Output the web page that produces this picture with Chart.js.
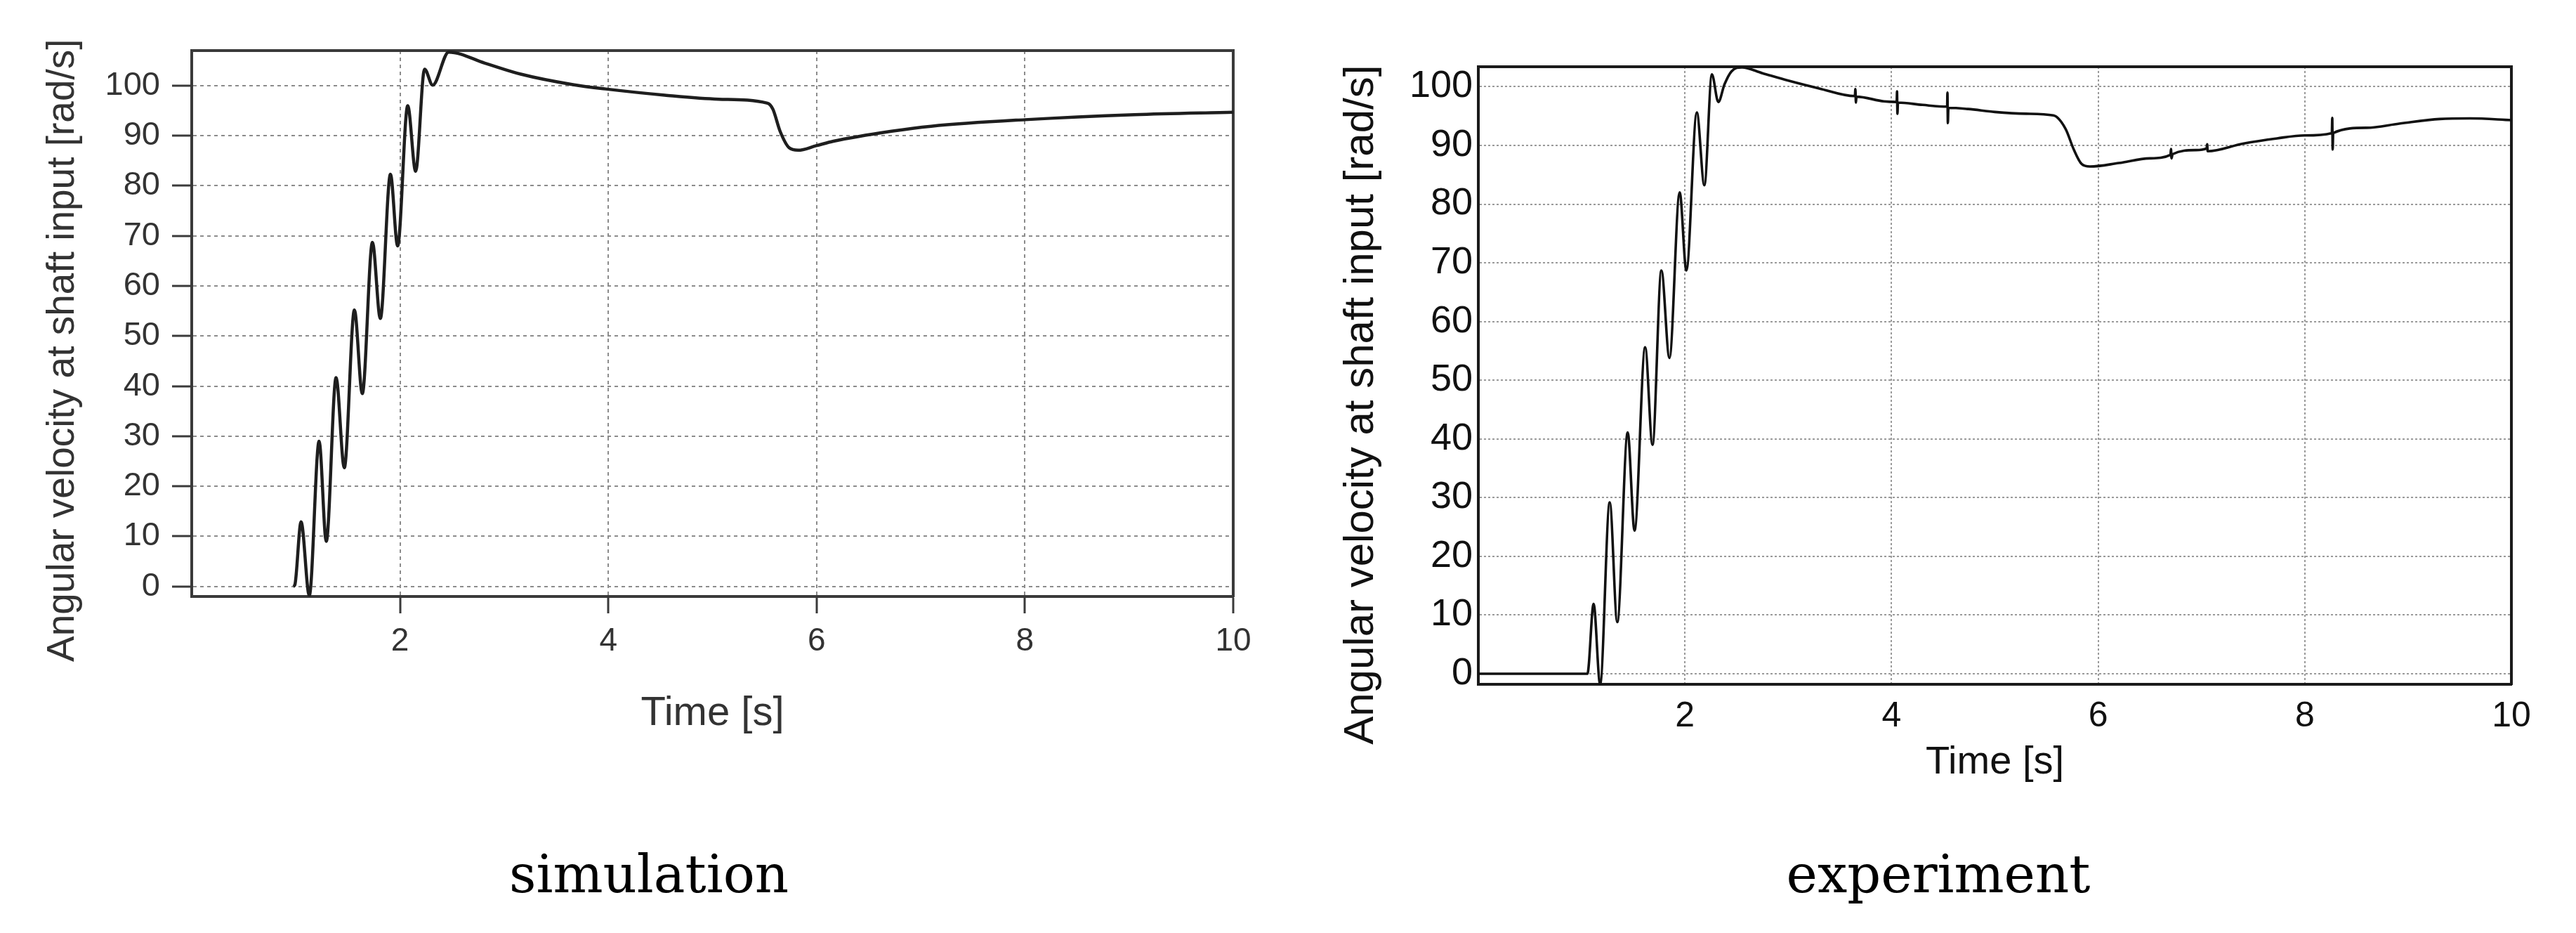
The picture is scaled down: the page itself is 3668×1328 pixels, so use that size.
<!DOCTYPE html>
<html>
<head>
<meta charset="utf-8">
<script src="https://cdn.jsdelivr.net/npm/chart.js@4.4.1/dist/chart.umd.min.js"></script>
<style>
html,body{margin:0;padding:0;background:#fff;width:3668px;height:1328px;overflow:hidden;}
#c1{position:absolute;left:0;top:0;width:1800px;height:1100px;}
#c2{position:absolute;left:1850px;top:0;width:1818px;height:1150px;}
.cap{position:absolute;width:800px;text-align:center;font-family:'DejaVu Serif',serif;font-size:75px;line-height:75px;color:#000;white-space:nowrap;}
</style>
</head>
<body>
<canvas id="c1" width="1800" height="1100"></canvas>
<canvas id="c2" width="1818" height="1150"></canvas>
<div class="cap" id="cap1" style="left:524px;top:1207px"></div>
<div class="cap" id="cap2" style="left:2360px;top:1207px"></div>
<script>
// ---- data ----
const simTime  = [0.975, 0.99, 1.050, 1.129, 1.223, 1.292, 1.386, 1.465, 1.562, 1.638, 1.735, 1.811, 1.908, 1.977, 2.074, 2.150, 2.236, 2.313, 2.468, 2.814, 3.159, 3.661, 3.989, 4.542, 5.06, 5.528, 5.580, 5.649, 5.736, 5.822, 5.995, 6.161, 6.72, 7.1, 8.0, 9.05, 10];
const simOmega = [0, 0.3, 12.9, -1.8, 29.0, 9.0, 41.7, 23.7, 55.2, 38.5, 68.7, 53.5, 82.3, 68.0, 96.0, 82.9, 103.3, 100.1, 106.7, 104.5, 102.3, 100.2, 99.3, 98.1, 97.3, 96.5, 95.3, 90.9, 87.6, 87.1, 88.0, 88.9, 90.9, 91.9, 93.2, 94.2, 94.7];

const expTime  = [0, 1.056, 1.116, 1.179, 1.272, 1.345, 1.446, 1.512, 1.615, 1.686, 1.772, 1.850, 1.949, 2.014, 2.115, 2.188, 2.261, 2.323, 2.383, 2.45, 2.552, 2.75, 3.008, 3.30, 3.645, 3.650, 3.655, 3.66, 3.926, 4.05, 4.053, 4.057, 4.062, 4.3, 4.538, 4.541, 4.545, 4.55, 4.741, 5.0, 5.3, 5.567, 5.685, 5.764, 5.842, 5.921, 6.2, 6.5, 6.70, 6.705, 6.71, 6.72, 6.945, 7.05, 7.055, 7.06, 7.4, 7.732, 8.0, 8.262, 8.266, 8.27, 8.275, 8.6, 8.914, 9.307, 9.6, 10];
const expOmega = [0, 0, 11.9, -1.8, 29.2, 8.8, 41.1, 24.4, 55.6, 39.0, 68.7, 53.8, 82.0, 68.7, 95.6, 83.2, 102.1, 97.4, 100.4, 102.6, 103.3, 102.3, 101.0, 99.7, 98.4, 99.6, 97.3, 98.3, 97.5, 97.4, 99.2, 95.4, 97.3, 96.9, 96.6, 99.0, 93.8, 96.4, 96.2, 95.7, 95.4, 95.1, 92.8, 89.3, 86.8, 86.4, 87.0, 87.8, 88.4, 89.4, 87.8, 88.5, 89.2, 89.5, 90.2, 89.0, 90.3, 91.2, 91.7, 92.1, 94.7, 89.3, 92.1, 93.0, 93.7, 94.5, 94.6, 94.3];

const xTickValues = [0, 2, 4, 6, 8, 10];
const yTickValues = [0, 10, 20, 30, 40, 50, 60, 70, 80, 90, 100];
const xTitle = 'Time [s]';
const yTitle = 'Angular velocity at shaft input [rad/s]';
const captions = ['simulation', 'experiment'];

document.getElementById('cap1').textContent = captions[0];
document.getElementById('cap2').textContent = captions[1];

const pts = (t, v) => t.map((x, i) => ({x: x, y: v[i]}));
const FONT = 'Liberation Sans';
const NB = '\u00a0\u00a0\u00a0\u00a0\u00a0';
const setTicks = (vals) => (a) => { a.ticks = vals.map(v => ({value: v})); };
const hideZero = (c, col) => (c.tick && c.tick.value === 0) ? 'rgba(0,0,0,0)' : col;

function frameAxes(col, w) {
  return {
    xTop: {type: 'linear', position: 'top', min: 0, max: 10,
      ticks: {display: false}, grid: {display: false, drawTicks: false},
      border: {display: true, color: col, width: w},
      afterFit: a => { a.height = 0; }},
    yRight: {type: 'linear', position: 'right', min: 0, max: 1,
      ticks: {display: false}, grid: {display: false, drawTicks: false},
      border: {display: true, color: col, width: w},
      afterFit: a => { a.width = 0; }}
  };
}

// ---- simulation chart ----
new Chart(document.getElementById('c1'), {
  type: 'line',
  data: {datasets: [{data: pts(simTime, simOmega), borderColor: '#1e1e1e', borderWidth: 4.5,
    pointRadius: 0, fill: false, cubicInterpolationMode: 'monotone'}]},
  options: {
    responsive: false, animation: false, events: [],
    layout: {padding: {left: 0, right: 44, top: 72, bottom: 0}},
    plugins: {legend: {display: false}, tooltip: {enabled: false}},
    scales: Object.assign({
      x: {type: 'linear', position: 'bottom', min: 0, max: 10,
        afterBuildTicks: setTicks(xTickValues),
        afterFit: a => { a.height = 251; },
        ticks: {color: '#333', font: {family: FONT, size: 46}, padding: 13, maxRotation: 0, autoSkip: false,
          callback: v => v === 0 ? '' : String(v)},
        grid: {color: c => hideZero(c, '#8c8c8c'), lineWidth: 2, drawTicks: true, tickLength: 24,
          tickColor: c => hideZero(c, '#3a3a3a'), tickWidth: 3},
        border: {display: true, color: '#3a3a3a', width: 4, dash: [5, 5]},
        title: {display: true, text: xTitle, color: '#333', font: {family: FONT, size: 58},
          padding: {top: 0, bottom: 49}}},
      y: {type: 'linear', position: 'left', min: -2, max: 107,
        afterBuildTicks: setTicks(yTickValues),
        afterFit: a => { a.width = 273; },
        ticks: {color: '#333', font: {family: FONT, size: 47}, padding: 17},
        grid: {color: '#8c8c8c', lineWidth: 2, drawTicks: true, tickLength: 28, tickColor: '#3a3a3a', tickWidth: 3},
        border: {display: true, color: '#3a3a3a', width: 4, dash: [5, 5]},
        title: {display: true, text: yTitle + NB, color: '#333', font: {family: FONT, size: 55},
          padding: {top: 57, bottom: 0}}}
    }, frameAxes('#3a3a3a', 4))
  }
});

// ---- experiment chart ----
new Chart(document.getElementById('c2'), {
  type: 'line',
  data: {datasets: [{data: pts(expTime, expOmega), borderColor: '#111', borderWidth: 3.6,
    pointRadius: 0, fill: false, cubicInterpolationMode: 'monotone'}]},
  options: {
    responsive: false, animation: false, events: [],
    layout: {padding: {left: 0, right: 92, top: 95, bottom: 0}},
    plugins: {legend: {display: false}, tooltip: {enabled: false}},
    scales: Object.assign({
      x: {type: 'linear', position: 'bottom', min: 0, max: 10,
        afterBuildTicks: setTicks(xTickValues),
        afterFit: a => { a.height = 176; },
        ticks: {color: '#111', font: {family: FONT, size: 50}, padding: 16, maxRotation: 0, autoSkip: false,
          callback: v => v === 0 ? '' : String(v)},
        grid: {color: c => hideZero(c, '#9a9a9a'), lineWidth: 2, drawTicks: false},
        border: {display: true, color: '#1a1a1a', width: 4, dash: [3, 3]},
        title: {display: true, text: xTitle, color: '#111', font: {family: FONT, size: 56},
          padding: {top: 0, bottom: 31}}},
      y: {type: 'linear', position: 'left', min: -1.8, max: 103.4,
        afterBuildTicks: setTicks(yTickValues),
        afterFit: a => { a.width = 255; },
        ticks: {color: '#111', font: {family: FONT, size: 54}, padding: 8},
        grid: {color: '#9a9a9a', lineWidth: 2, drawTicks: false},
        border: {display: true, color: '#1a1a1a', width: 4, dash: [3, 3]},
        title: {display: true, text: yTitle + NB, color: '#111', font: {family: FONT, size: 60},
          padding: {top: 52, bottom: 0}}}
    }, frameAxes('#1a1a1a', 4))
  }
});
</script>
</body>
</html>
